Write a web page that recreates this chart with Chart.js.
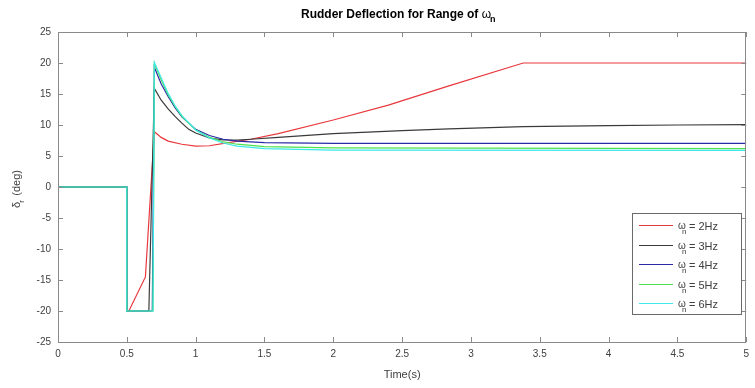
<!DOCTYPE html>
<html>
<head>
<meta charset="utf-8">
<script src="https://cdn.jsdelivr.net/npm/chart.js@4/dist/chart.umd.min.js"></script>
<style>
    body { margin: 0; background: #fff; }
    #wrap { width: 755px; height: 388px; position: relative; }
</style>
</head>
<body>
<div id="wrap"><canvas id="rudderChart"></canvas></div>
<script>
// time (s) and rudder deflection (deg) for each natural frequency
const t2 = [0, 0.5, 0.5, 0.515, 0.635, 0.7, 0.75, 0.8, 0.9, 1.0, 1.1, 1.25, 1.4, 1.6, 2.0, 2.4, 2.84, 3.38, 5];
const d2 = [0, 0, -20, -20, -14.5, 8.9, 8.0, 7.4, 6.9, 6.6, 6.65, 7.2, 7.7, 8.6, 10.8, 13.2, 16.3, 20, 20];

const t3 = [0, 0.5, 0.5, 0.66, 0.7, 0.75, 0.8, 0.85, 0.9, 0.95, 1.0, 1.1, 1.2, 1.3, 1.4, 1.6, 2.0, 2.5, 2.84, 3.38, 4, 4.5, 5];
const d3 = [0, 0, -20, -20, 15.9, 14.0, 12.6, 11.4, 10.3, 9.3, 8.7, 7.9, 7.6, 7.55, 7.7, 8.0, 8.6, 9.1, 9.36, 9.74, 9.9, 10.0, 10.06];

const t4 = [0, 0.5, 0.5, 0.685, 0.7, 0.75, 0.8, 0.85, 0.9, 1.0, 1.1, 1.2, 1.3, 1.5, 2.0, 5];
const d4 = [0, 0, -20, -20, 19.3, 16.6, 14.6, 12.8, 11.3, 9.3, 8.3, 7.7, 7.4, 7.15, 7.05, 7.05];

const t5 = [0, 0.5, 0.5, 0.69, 0.7, 0.75, 0.8, 0.85, 0.9, 1.0, 1.1, 1.2, 1.3, 1.5, 2.0, 5];
const d5 = [0, 0, -20, -20, 19.9, 17.3, 14.9, 13.0, 11.4, 9.2, 8.0, 7.3, 6.9, 6.5, 6.3, 6.2];

const t6 = [0, 0.5, 0.5, 0.69, 0.7, 0.75, 0.8, 0.85, 0.9, 1.0, 1.1, 1.2, 1.3, 1.5, 2.0, 5];
const d6 = [0, 0, -20, -20, 20.1, 17.6, 15.1, 13.1, 11.5, 9.2, 7.9, 7.1, 6.6, 6.2, 5.95, 5.9];

const freqLabels = ['2Hz', '3Hz', '4Hz', '5Hz', '6Hz'];
const lineColors = ['#e8383d', '#3a3a3a', '#2a2aa8', '#4ee04e', '#3ce8e8'];

const FONT = '"Liberation Sans", Arial, sans-serif';

function toPoints(ts, ds) {
    return ts.map((t, i) => ({ x: t, y: ds[i] }));
}

const series = [[t2, d2], [t3, d3], [t4, d4], [t5, d5], [t6, d6]];

// title, axis labels, inward ticks and legend with subscripts
const matlabDecor = {
    id: 'matlabDecor',
    afterDraw(chart) {
        const ctx = chart.ctx;
        const area = chart.chartArea;
        const xs = chart.scales.x;
        const ys = chart.scales.y;
        ctx.save();

        // box and inward ticks
        ctx.strokeStyle = '#8a8a8a';
        ctx.lineWidth = 1;
        ctx.strokeRect(Math.round(area.left) + 0.5, Math.round(area.top) + 0.5,
            Math.round(area.right - area.left) - 1, Math.round(area.bottom - area.top));
        ctx.beginPath();
        xs.ticks.forEach(tk => {
            const px = Math.round(xs.getPixelForValue(tk.value)) + 0.5;
            ctx.moveTo(px, area.bottom); ctx.lineTo(px, area.bottom - 5);
            ctx.moveTo(px, area.top); ctx.lineTo(px, area.top + 5);
        });
        ys.ticks.forEach(tk => {
            const py = Math.round(ys.getPixelForValue(tk.value)) + 0.5;
            ctx.moveTo(area.left, py); ctx.lineTo(area.left + 5, py);
            ctx.moveTo(area.right, py); ctx.lineTo(area.right - 5, py);
        });
        ctx.stroke();

        // title
        ctx.fillStyle = '#000';
        ctx.textBaseline = 'alphabetic';
        const title = 'Rudder Deflection for Range of ';
        ctx.font = 'bold 12px ' + FONT;
        const tw = ctx.measureText(title).width;
        ctx.font = '12px ' + FONT;
        const ow = ctx.measureText('ω').width;
        const startX = 399 - (tw + ow + 6) / 2;
        ctx.font = 'bold 12px ' + FONT;
        ctx.textAlign = 'left';
        ctx.fillText(title, startX, 18);
        ctx.font = '12px ' + FONT;
        ctx.fillText('ω', startX + tw, 18);
        ctx.font = 'bold 9px ' + FONT;
        ctx.fillText('n', startX + tw + ow - 1, 22);

        // x label
        ctx.fillStyle = '#404040';
        ctx.font = '11px ' + FONT;
        ctx.textAlign = 'center';
        ctx.fillText('Time(s)', (area.left + area.right) / 2, 378);

        // y label
        ctx.save();
        ctx.translate(20, 188);
        ctx.rotate(-Math.PI / 2);
        ctx.textAlign = 'left';
        ctx.font = '11px ' + FONT;
        const dw = ctx.measureText('δ').width;
        const rest = ' (deg)';
        const rw = ctx.measureText(rest).width;
        const lx = -(dw + 5 + rw) / 2;
        ctx.fillText('δ', lx, 0);
        ctx.font = '8px ' + FONT;
        ctx.fillText('r', lx + dw - 1, 4);
        ctx.font = '11px ' + FONT;
        ctx.fillText(rest, lx + dw + 3, 0);
        ctx.restore();

        // legend
        const bx = 632, by = 213, bw = 109, bh = 101;
        ctx.fillStyle = '#fff';
        ctx.fillRect(bx, by, bw, bh);
        ctx.strokeStyle = '#6a6a6a';
        ctx.strokeRect(bx + 0.5, by + 0.5, bw, bh);
        freqLabels.forEach((lab, i) => {
            const ly = Math.round(by + 12 + i * 19.6) + 0.5;
            ctx.strokeStyle = lineColors[i];
            ctx.lineWidth = 1.2;
            ctx.beginPath();
            ctx.moveTo(639, ly); ctx.lineTo(673, ly);
            ctx.stroke();
            ctx.fillStyle = '#404040';
            ctx.textAlign = 'left';
            ctx.font = '10px ' + FONT;
            ctx.fillText('ω', 678, ly + 3);
            ctx.font = '8px ' + FONT;
            ctx.fillText('n', 682, ly + 8);
            ctx.font = '11px ' + FONT;
            ctx.fillText('= ' + lab, 689, ly + 4);
        });

        ctx.restore();
    }
};

const ctx = document.getElementById('rudderChart');
new Chart(ctx, {
    type: 'line',
    data: {
        datasets: series.map((s, i) => ({
            label: 'ωn = ' + freqLabels[i],
            data: toPoints(s[0], s[1]),
            borderColor: lineColors[i],
            borderWidth: 1.2,
            pointRadius: 0,
            tension: 0,
            fill: false,
            order: 5 - i
        }))
    },
    options: {
        responsive: true,
        maintainAspectRatio: false,
        animation: false,
        layout: { padding: { top: 32, right: 6, left: 0, bottom: 0 } },
        plugins: {
            legend: { display: false },
            title: { display: false },
            tooltip: { enabled: false }
        },
        scales: {
            x: {
                type: 'linear',
                min: 0,
                max: 5,
                ticks: {
                    stepSize: 0.5,
                    color: '#404040',
                    font: { family: FONT, size: 10 },
                    maxRotation: 0,
                    padding: 6,
                    callback: v => String(Math.round(v * 10) / 10)
                },
                grid: { display: false, drawTicks: false },
                border: { display: false },
                afterFit(scale) { scale.height = 46; }
            },
            y: {
                min: -25,
                max: 25,
                ticks: {
                    stepSize: 5,
                    color: '#404040',
                    font: { family: FONT, size: 10 },
                    padding: 7
                },
                grid: { display: false, drawTicks: false },
                border: { display: false },
                afterFit(scale) { scale.width = 58; }
            }
        }
    },
    plugins: [matlabDecor]
});
</script>
</body>
</html>
